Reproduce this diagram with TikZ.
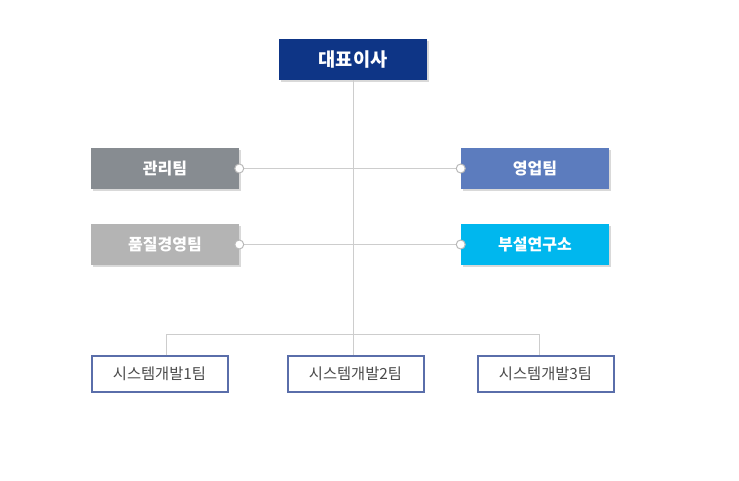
\documentclass[tikz,border=0pt]{standalone}
\usepackage{fontspec}
\setmainfont{Noto Sans CJK KR}
\usepackage{tikz}
\usetikzlibrary{shadows}

\definecolor{ceoblue}{RGB}{14,53,134}
\definecolor{admingray}{RGB}{135,140,145}
\definecolor{salesblue}{RGB}{92,124,190}
\definecolor{qualgray}{RGB}{180,180,180}
\definecolor{labcyan}{RGB}{0,183,238}
\definecolor{devframe}{RGB}{90,110,170}
\definecolor{devtext}{RGB}{75,75,75}
\definecolor{linegray}{RGB}{205,205,205}
\definecolor{dotgray}{RGB}{185,185,185}

\tikzset{
  teambox/.style={minimum width=111pt,minimum height=30.75pt,inner sep=0pt,
    text=white,font=\bfseries\fontsize{12pt}{14pt}\selectfont,
    drop shadow={shadow xshift=1.2pt,shadow yshift=-1.2pt,opacity=0.25,fill=black!60}},
  devbox/.style={draw=devframe,line width=1.5pt,fill=white,minimum width=102pt,
    minimum height=26.5pt,inner sep=0pt,text=devtext,font=\fontsize{11.5pt}{13pt}\selectfont,
    drop shadow={shadow xshift=1.2pt,shadow yshift=-1.2pt,opacity=0.2,fill=black!60}},
  orgline/.style={draw=linegray,line width=0.75pt},
  joint/.style={draw=dotgray,fill=white,line width=0.75pt}
}

\begin{document}
\begin{tikzpicture}[x=0.75pt,y=0.75pt,yscale=-1]
\useasboundingbox (0,0) rectangle (739,480);

% Boxes
\node [teambox,fill=ceoblue,font=\bfseries\fontsize{14pt}{16pt}\selectfont] (ceo) at (353,59.5) {대표이사};
\node [teambox,fill=admingray] (admin) at (165,168.5) {관리팀};
\node [teambox,fill=salesblue] (sales) at (535,168.5) {영업팀};
\node [teambox,fill=qualgray] (quality) at (165,244.5) {품질경영팀};
\node [teambox,fill=labcyan] (lab) at (535,244.5) {부설연구소};
\node [devbox] (dev1) at (159.5,374) {시스템개발1팀};
\node [devbox] (dev2) at (355.5,374) {시스템개발2팀};
\node [devbox] (dev3) at (545.5,374) {시스템개발3팀};

% Bus points
\coordinate (bus1) at (166,334);
\coordinate (bus3) at (539,334);

% Lines
\draw [orgline] (ceo.south) -- (ceo.south |- dev2.north);
\draw [orgline] (admin.east) -- (sales.west);
\draw [orgline] (quality.east) -- (lab.west);
\draw [orgline] (bus1 |- dev1.north) -- (bus1) -- (bus3) -- (bus3 |- dev3.north);

% Joints
\foreach \p in {admin.east,quality.east,sales.west,lab.west}
  \draw [joint] (\p) circle (4.5);

\end{tikzpicture}
\end{document}
